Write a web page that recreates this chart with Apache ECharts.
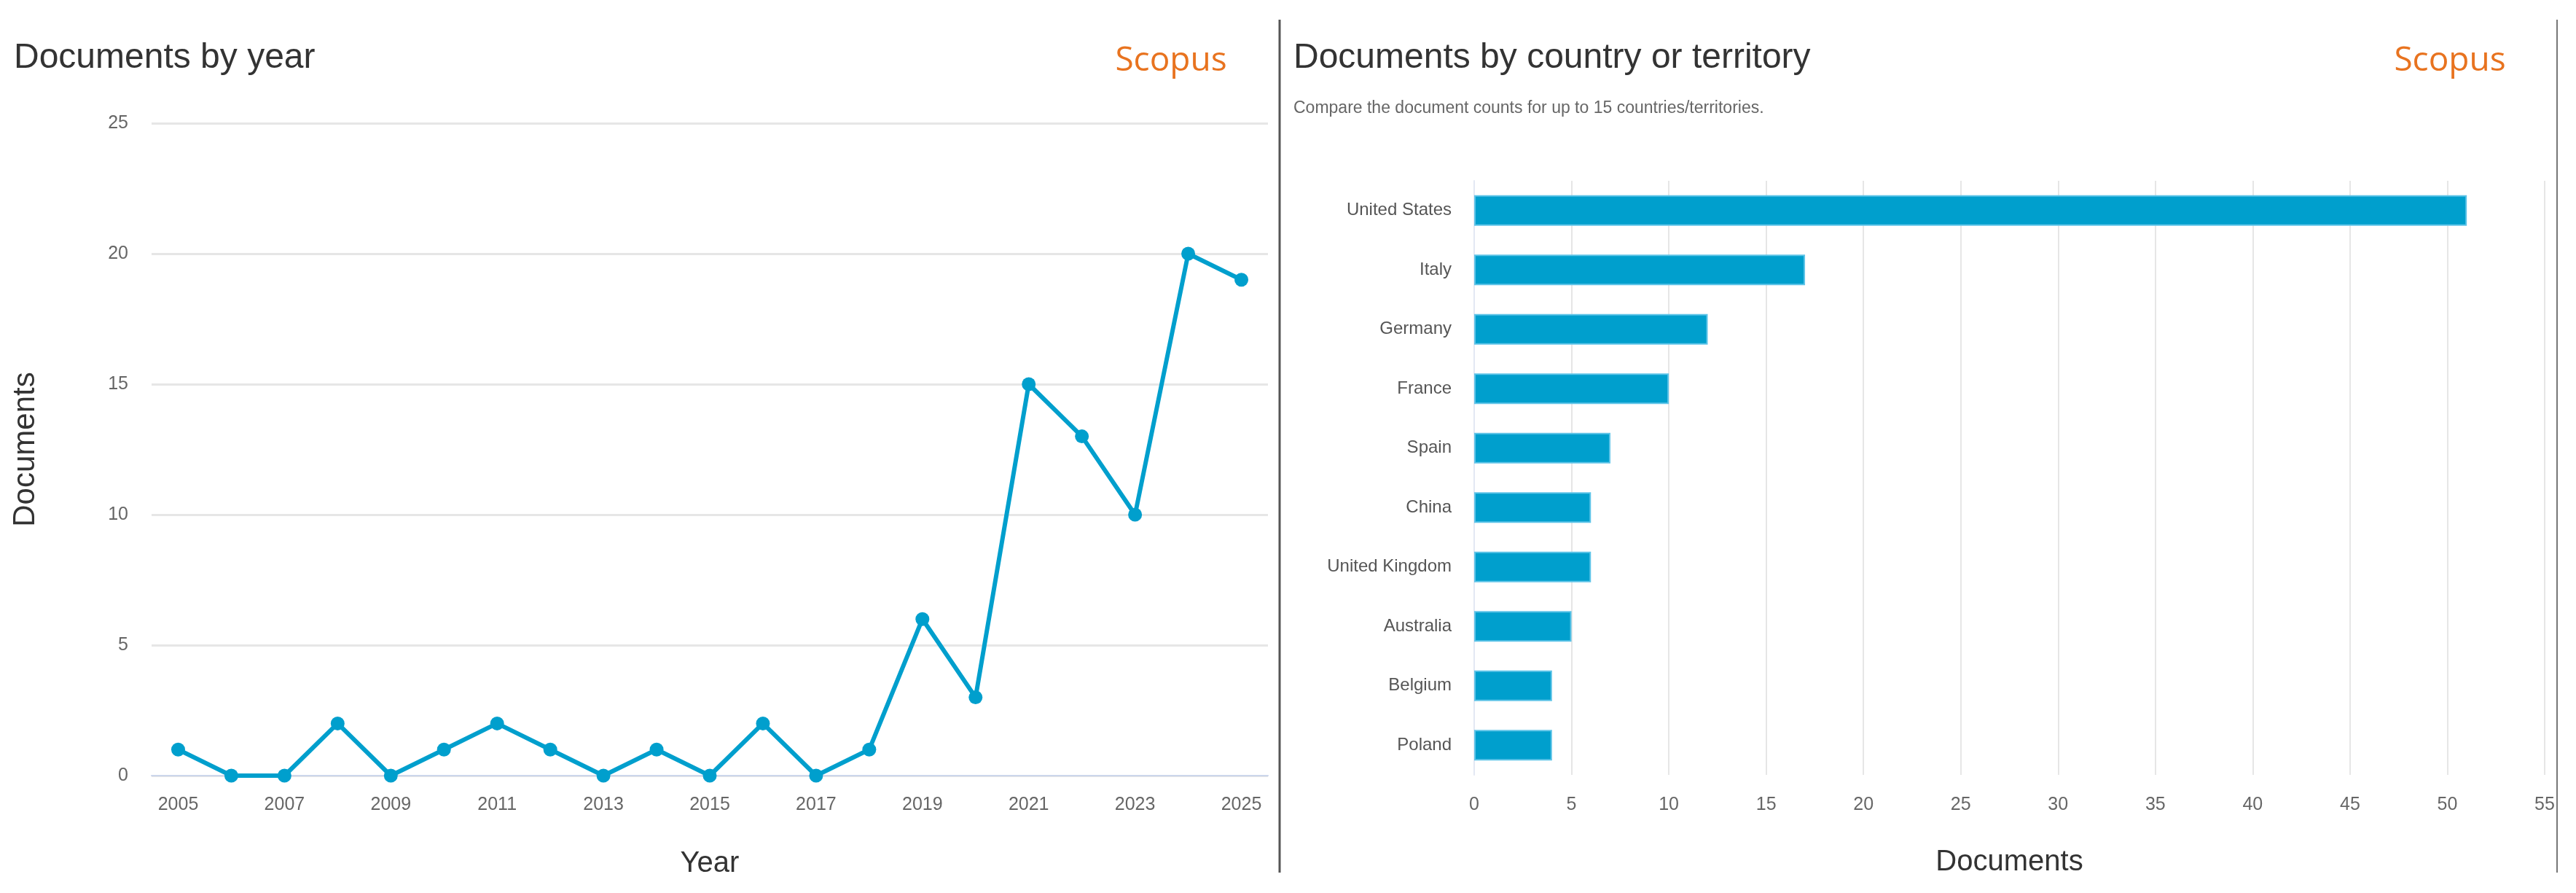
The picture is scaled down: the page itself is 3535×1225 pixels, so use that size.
<html>
    <head>
        <meta charset="utf-8">
        <script src="https://cdn.jsdelivr.net/npm/echarts@6/dist/echarts.min.js"></script>
    </head>
    <body>
        <style>
            html, body, #main {
                width: 100%;
                height: 100%;
                margin: 0;
                background: #fff;
            }
        </style>
        <div id='main'></div>
        <script>
            // documents per year
            var years = ['2005','2006','2007','2008','2009','2010','2011','2012','2013','2014','2015',
                         '2016','2017','2018','2019','2020','2021','2022','2023','2024','2025'];
            var docsByYear = [1, 0, 0, 2, 0, 1, 2, 1, 0, 1, 0, 2, 0, 1, 6, 3, 15, 13, 10, 20, 19];

            // documents per country
            var countries = ['United States','Italy','Germany','France','Spain','China',
                             'United Kingdom','Australia','Belgium','Poland'];
            var docsByCountry = [51, 17, 12, 10, 7, 6, 6, 5, 4, 4];

            var blue = '#009fcd';
            var font = 'Liberation Sans, Arial, sans-serif';

            var chart = echarts.init(document.getElementById('main'));
            var option = {
                backgroundColor: '#fff',
                textStyle: { fontFamily: font },
                title: [{
                    text: 'Documents by year',
                    left: 14, top: 51,
                    textStyle: { fontSize: 48, fontWeight: 'normal', color: '#333' }
                }, {
                    text: 'Documents by country or territory',
                    subtext: 'Compare the document counts for up to 15 countries/territories.',
                    left: 1770, top: 51, itemGap: 33,
                    textStyle: { fontSize: 48, fontWeight: 'normal', color: '#333' },
                    subtextStyle: { fontSize: 23, color: '#666' }
                }],
                graphic: [{
                    type: 'line',
                    shape: { x1: 1756, y1: 27, x2: 1756, y2: 1197 },
                    style: { stroke: '#555', lineWidth: 3 }
                }, {
                    type: 'line',
                    shape: { x1: 3509, y1: 27, x2: 3509, y2: 1197 },
                    style: { stroke: '#777', lineWidth: 2 }
                }, {
                    type: 'text', x: 1607, y: 84,
                    style: { text: 'Scopus', fill: '#e8731f', font: '46px "Open Sans"',
                             textAlign: 'center', textVerticalAlign: 'middle' }
                }, {
                    type: 'text', x: 3362, y: 84,
                    style: { text: 'Scopus', fill: '#e8731f', font: '46px "Open Sans"',
                             textAlign: 'center', textVerticalAlign: 'middle' }
                }],
                grid: [
                    { left: 208, right: 1795, top: 169, bottom: 161 },
                    { left: 2023, right: 43, top: 248, bottom: 162 }
                ],
                xAxis: [{
                    gridIndex: 0,
                    type: 'category',
                    data: years,
                    boundaryGap: true,
                    name: 'Year', nameLocation: 'middle', nameGap: 101,
                    nameTextStyle: { fontSize: 40, color: '#333' },
                    axisTick: { show: false },
                    axisLine: { lineStyle: { color: '#ccd6eb', width: 2 } },
                    axisLabel: { interval: 1, fontSize: 25, color: '#666', margin: 28 }
                }, {
                    gridIndex: 1,
                    type: 'value',
                    min: 0, max: 55, interval: 5,
                    name: 'Documents', nameLocation: 'middle', nameGap: 100,
                    nameTextStyle: { fontSize: 40, color: '#333' },
                    axisLabel: { fontSize: 25, color: '#666', margin: 29 },
                    splitLine: { lineStyle: { color: '#e6e6e6', width: 2 } }
                }],
                yAxis: [{
                    gridIndex: 0,
                    type: 'value',
                    min: 0, max: 25, interval: 5,
                    name: 'Documents', nameLocation: 'middle', nameGap: 152, nameRotate: 90,
                    nameTextStyle: { fontSize: 42, color: '#333' },
                    axisLabel: { fontSize: 25, color: '#666', margin: 32 },
                    splitLine: { lineStyle: { color: '#e6e6e6', width: 3 } }
                }, {
                    gridIndex: 1,
                    type: 'category',
                    data: countries,
                    inverse: true,
                    axisTick: { show: false },
                    axisLine: { lineStyle: { color: '#e3e8f3', width: 2 } },
                    axisLabel: { fontSize: 24, color: '#555', margin: 31 }
                }],
                series: [{
                    type: 'line',
                    xAxisIndex: 0, yAxisIndex: 0,
                    data: docsByYear,
                    symbol: 'circle', symbolSize: 19,
                    itemStyle: { color: blue },
                    lineStyle: { color: blue, width: 6 }
                }, {
                    type: 'bar',
                    xAxisIndex: 1, yAxisIndex: 1,
                    data: docsByCountry,
                    barWidth: 42,
                    itemStyle: { color: blue, borderColor: '#5ec4e8', borderWidth: 2 }
                }]
            };
            chart.setOption(option);
        </script>
    </body>
</html>
